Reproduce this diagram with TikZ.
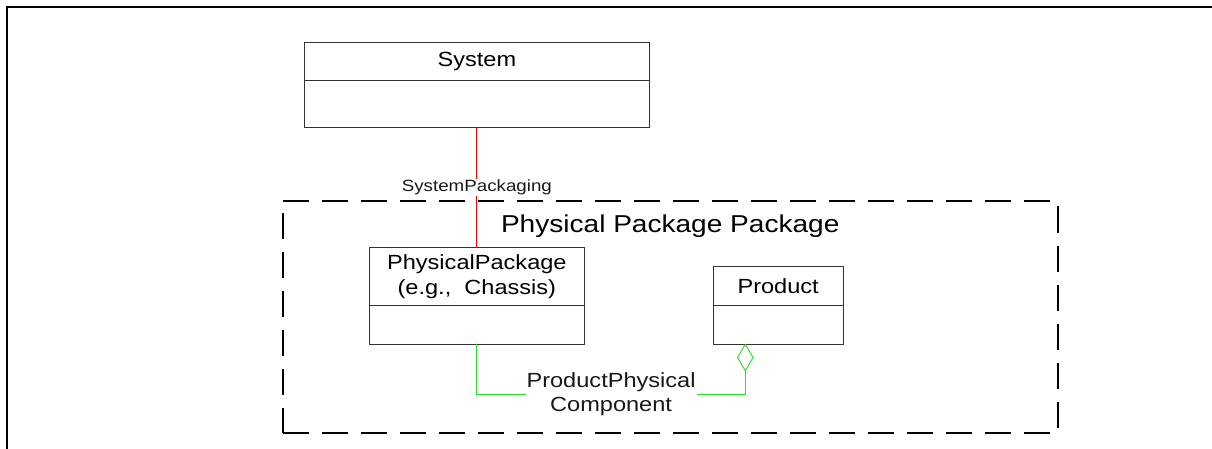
\documentclass[tikz,border=0pt]{standalone}
\usepackage{fontspec}
\newfontfamily\umlfont[FakeStretch=1.15]{Liberation Sans}
\usetikzlibrary{positioning,shapes.geometric}
\definecolor{pkgred}{RGB}{250,0,0}
\definecolor{aggreen}{RGB}{40,225,40}

\begin{document}
\begin{tikzpicture}[
                x=1pt, y=-1pt,
                every node/.style={inner sep=0pt, outer sep=0pt, font=\umlfont},
                classname/.style={draw=black!80, line width=0.9pt, align=center,
                        font=\umlfont\fontsize{20.5}{24.3}\selectfont},
                classbody/.style={draw=black!80, line width=0.9pt},
                package/.style={draw, line width=2pt, dash pattern=on 26pt off 13pt},
                assoclabel/.style={fill=white, text=black!90, inner sep=1pt, align=center},
                aggdiamond/.style={diamond, draw=aggreen, line width=0.9pt, fill=white,
                        minimum width=15.6pt, minimum height=26.4pt}
            ]

            \useasboundingbox (0,0) rectangle (1212,449);
            \draw[line width=2pt] (1213,7.3) -- (6.5,7.3) -- (6.5,450);

            \node[package, minimum width=774.5pt, minimum height=232.3pt] (pkg) at (670.25,316.85) {};
            \node[anchor=base, font=\umlfont\fontsize{24.4}{29}\selectfont] (pkgname) at (670.25,232.3) {Physical Package Package};

            \node[classname, minimum width=344.3pt, minimum height=38.4pt] (sys) at (476.85,61.5) {System};
            \node[classbody, minimum width=344.3pt, minimum height=46.3pt, below=0pt of sys] (sysattr) {};

            \node[classname, minimum width=214.9pt, minimum height=58pt] (pp) at (476.85,276.7) {PhysicalPackage\\(e.g.,\ \ Chassis)};
            \node[classbody, minimum width=214.9pt, minimum height=38.3pt, below=0pt of pp] (ppattr) {};

            \node[classname, minimum width=129.7pt, minimum height=38.6pt] (prod) at (778.15,286) {Product};
            \node[classbody, minimum width=129.7pt, minimum height=39pt, below=0pt of prod] (prodattr) {};
            \node[aggdiamond, anchor=north] (agg) at ([xshift=-32.85pt]prodattr.south) {};

            \draw[pkgred, line width=0.9pt] (sysattr.south) -- node[assoclabel, font=\umlfont\fontsize{16.3}{19}\selectfont] (syspkg) {SystemPackaging} (pp.north);
            \draw[aggreen, line width=0.9pt] (ppattr.south) -- ++(0,50.3) -| node[assoclabel, pos=0.25, font=\umlfont\fontsize{20.5}{24.5}\selectfont] (prodphys) {ProductPhysical\\Component} (agg.south);

        \end{tikzpicture}
\end{document}
